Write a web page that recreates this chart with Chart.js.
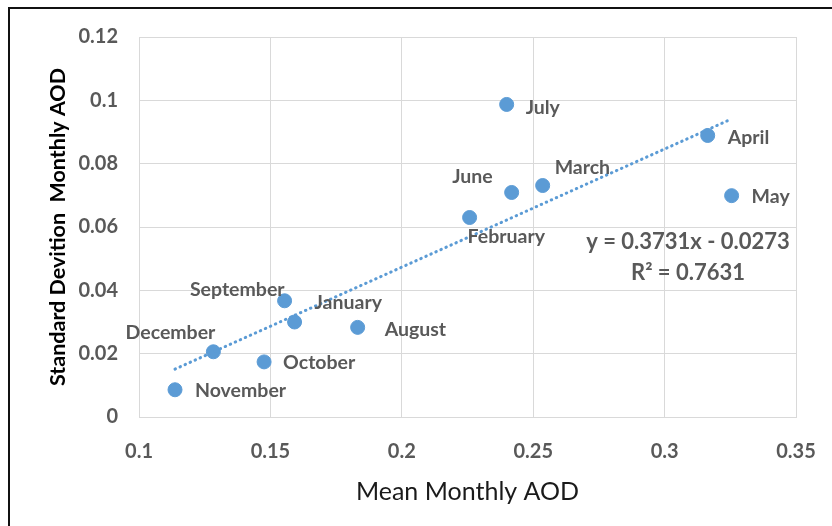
<!DOCTYPE html>
<html>
<head>
<meta charset="utf-8">
<script src="https://cdn.jsdelivr.net/npm/chart.js@4/dist/chart.umd.min.js"></script>
<style>
  html, body { margin: 0; padding: 0; background: #fff; overflow: hidden; }
  #wrap { position: relative; width: 832px; height: 526px; }
  #frame {
    position: absolute; left: 8px; top: 7px; width: 900px; height: 600px;
    border-left: 2px solid #111; border-top: 2px solid #111; pointer-events: none;
  }
</style>
</head>
<body>
<div id="wrap">
  <canvas id="aodChart" width="832" height="526"></canvas>
  <div id="frame"></div>
</div>
<script>
// mois, moyenne mensuelle AOD, écart-type mensuel
const months = ['January', 'February', 'March', 'April', 'May', 'June',
                'July', 'August', 'September', 'October', 'November', 'December'];
const meanAOD = [0.1592, 0.2258, 0.2536, 0.3164, 0.3255, 0.2418,
                 0.2399, 0.1832, 0.1554, 0.1476, 0.1137, 0.1283];
const stdAOD = [0.0300, 0.0630, 0.0731, 0.0889, 0.0699, 0.0709,
                0.0987, 0.0283, 0.0367, 0.0174, 0.0086, 0.0206];

const xTickValues = [0.1, 0.15, 0.2, 0.25, 0.3, 0.35];
const yTickValues = [0, 0.02, 0.04, 0.06, 0.08, 0.1, 0.12];

// droite de tendance (Excel)
const slope = 0.3731;
const intercept = -0.0273;
const rSquared = 0.7631;

// où poser chaque étiquette par rapport à son point
const labelPlacement = [
  { dx: 20, dy: -19, align: 'left' },   // January
  { dx: -2, dy: 19, align: 'left' },    // February
  { dx: 12, dy: -18, align: 'left' },   // March
  { dx: 20, dy: 2, align: 'left' },     // April
  { dx: 20, dy: 1, align: 'left' },     // May
  { dx: -19, dy: -16, align: 'right' }, // June
  { dx: 19, dy: 3, align: 'left' },     // July
  { dx: 27, dy: 2, align: 'left' },     // August
  { dx: 0, dy: -11, align: 'right' },   // September
  { dx: 19, dy: 1, align: 'left' },     // October
  { dx: 20, dy: 1, align: 'left' },     // November
  { dx: 2, dy: -19, align: 'right' }    // December
];

const FONT = 'Lato, "Open Sans", sans-serif';
const BLUE = '#5B9BD5';
const GRID = '#d9d9d9';

const points = meanAOD.map((x, i) => ({ x: x, y: stdAOD[i] }));
const xMin = Math.min(...meanAOD);
const xMax = Math.max(...meanAOD);
const trend = [xMin, xMax].map(x => ({ x: x, y: slope * x + intercept }));

const fmt = v => String(Number(v.toFixed(2)));

const pointLabels = {
  id: 'pointLabels',
  afterDatasetsDraw(chart) {
    const ctx = chart.ctx;
    const meta = chart.getDatasetMeta(1);
    ctx.save();
    ctx.font = 'bold 19.5px ' + FONT;
    ctx.fillStyle = '#595959';
    ctx.textBaseline = 'middle';
    meta.data.forEach((el, i) => {
      const p = labelPlacement[i];
      ctx.textAlign = p.align;
      ctx.fillText(months[i], el.x + p.dx, el.y + p.dy);
    });
    // équation de la tendance
    const a = chart.chartArea;
    const cx = a.right - 108;
    ctx.textAlign = 'center';
    ctx.font = 'bold 22px ' + FONT;
    ctx.fillText('y = ' + slope + 'x - ' + Math.abs(intercept), cx, 242);
    ctx.fillText('R\u00B2 = ' + rSquared, cx, 273);
    ctx.restore();
  }
};

function generateChart() {
  const ctx = document.getElementById('aodChart').getContext('2d');
  new Chart(ctx, {
    type: 'scatter',
    data: {
      datasets: [
        {
          type: 'line',
          data: trend,
          borderColor: BLUE,
          borderWidth: 3,
          borderDash: [0.5, 5],
          borderCapStyle: 'round',
          pointRadius: 0,
          fill: false
        },
        {
          data: points,
          backgroundColor: BLUE,
          borderColor: BLUE,
          pointRadius: 7,
          pointHoverRadius: 7
        }
      ]
    },
    options: {
      responsive: false,
      animation: false,
      devicePixelRatio: 1,
      layout: { padding: { left: 0, top: 37, right: 36, bottom: 0 } },
      plugins: {
        legend: { display: false },
        tooltip: { enabled: false }
      },
      scales: {
        x: {
          type: 'linear',
          min: 0.1,
          max: 0.35,
          afterBuildTicks: s => { s.ticks = xTickValues.map(v => ({ value: v })); },
          afterFit: s => { s.height = 109; s.paddingLeft = 0; s.paddingRight = 0; },
          grid: { color: GRID, drawTicks: false },
          border: { color: GRID },
          ticks: {
            padding: 23,
            color: '#595959',
            font: { family: FONT, size: 20, weight: 'bold' },
            callback: v => fmt(v)
          },
          title: {
            display: true,
            text: 'Mean Monthly AOD',
            color: '#1a1a1a',
            font: { family: FONT, size: 25 },
            padding: { bottom: 19 }
          }
        },
        y: {
          type: 'linear',
          min: 0,
          max: 0.12,
          afterBuildTicks: s => { s.ticks = yTickValues.map(v => ({ value: v })); },
          afterFit: s => { s.width = 139; },
          grid: { color: GRID, drawTicks: false },
          border: { color: GRID },
          ticks: {
            padding: 21,
            color: '#595959',
            font: { family: FONT, size: 20, weight: 'bold' },
            callback: v => fmt(v)
          },
          title: {
            display: true,
            text: 'Standard Devition  Monthly AOD',
            color: '#000',
            font: { family: FONT, size: 21.5, weight: 'bold' },
            padding: { top: 45 }
          }
        }
      }
    },
    plugins: [pointLabels]
  });
}

document.addEventListener('DOMContentLoaded', generateChart);
</script>
</body>
</html>
